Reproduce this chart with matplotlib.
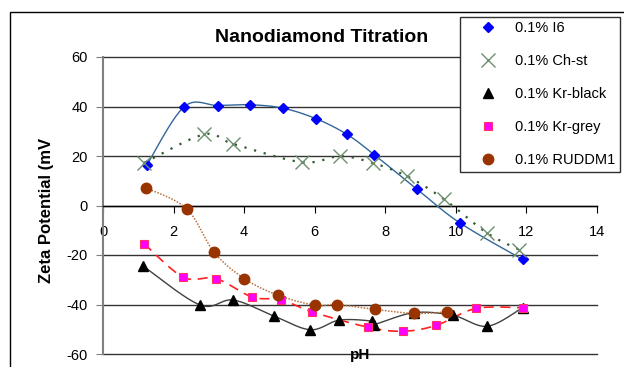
import numpy as np
import matplotlib
matplotlib.use("Agg")
import matplotlib.pyplot as plt
from matplotlib.patches import Rectangle

plt.rcParams['font.family'] = ['Liberation Sans', 'DejaVu Sans']
plt.rcParams['axes.unicode_minus'] = False

# pH / zeta potential readings per sample
i6_ph = [1.24, 2.30, 3.25, 4.18, 5.11, 6.05, 6.92, 7.68, 8.89, 10.11, 11.89]
i6_zp = [16.3, 39.9, 40.4, 40.7, 39.3, 35.0, 28.7, 20.6, 6.7, -7.0, -21.8]

chst_ph = [1.16, 2.86, 3.69, 5.63, 6.73, 7.64, 8.62, 9.67, 10.87, 11.79]
chst_zp = [17.2, 28.7, 24.9, 17.5, 19.9, 17.2, 11.8, 2.5, -11.0, -17.8]

krb_ph = [1.14, 2.75, 3.69, 4.85, 5.88, 6.70, 7.61, 7.68, 8.81, 9.92, 10.89, 11.89]
krb_zp = [-24.5, -40.2, -38.2, -44.7, -50.2, -46.3, -46.7, -48.1, -43.3, -44.4, -48.8, -41.3]

krg_ph = [1.16, 2.28, 3.20, 4.23, 5.04, 5.93, 7.52, 8.51, 9.45, 10.57, 11.89]
krg_zp = [-15.4, -29.0, -29.5, -37.0, -38.0, -43.0, -49.2, -50.8, -48.4, -41.6, -41.3]

rud_ph = [1.22, 2.37, 3.15, 4.00, 4.95, 6.01, 6.62, 7.71, 8.81, 9.76]
rud_zp = [7.1, -1.3, -18.9, -29.5, -36.2, -40.3, -40.0, -42.0, -43.6, -43.0]

labels = ['0.1% I6', '0.1% Ch-st', '0.1% Kr-black', '0.1% Kr-grey', '0.1% RUDDM1']


def smooth(x, y, n=24):
    # bezier smoothing through the points, like the spreadsheet "smoothed line"
    pts = np.column_stack([x, y]).astype(float)
    P = np.vstack([pts[0], pts, pts[-1]])
    t = np.linspace(0, 1, n)[:, None]
    out = []
    for i in range(1, len(P) - 2):
        p0, p1, p2, p3 = P[i - 1], P[i], P[i + 1], P[i + 2]
        c1 = p1 + (p2 - p0) / 6.0
        c2 = p2 - (p3 - p1) / 6.0
        seg = ((1 - t) ** 3 * p1 + 3 * (1 - t) ** 2 * t * c1
               + 3 * (1 - t) * t ** 2 * c2 + t ** 3 * p2)
        out.append(seg)
    s = np.vstack(out)
    return s[:, 0], s[:, 1]


fig = plt.figure(figsize=(6.24, 3.67), dpi=100)
ax = fig.add_axes([103 / 624, 13 / 367, 494 / 624, 297 / 367])

series = [
    (i6_ph, i6_zp, dict(color='#336699', lw=1.0, ls='-'),
     dict(marker='D', ms=5.5, mfc='#0000ff', mec='#0000ff')),
    (chst_ph, chst_zp, dict(color='#2f5a2f', lw=1.6, ls=(0, (1, 3.5))),
     dict(marker='x', ms=10, mfc='none', mec='#6e8f6e', mew=1.0)),
    (krb_ph, krb_zp, dict(color='#404040', lw=1.0, ls='-'),
     dict(marker='^', ms=6.5, mfc='black', mec='black')),
    (krg_ph, krg_zp, dict(color='#ff2020', lw=1.2, ls=(0, (6, 4))),
     dict(marker='s', ms=6, mfc='#ff00ff', mec='#ff3366', mew=0.8)),
    (rud_ph, rud_zp, dict(color='#b8703a', lw=1.1, ls=(0, (1, 1))),
     dict(marker='o', ms=7.5, mfc='#993300', mec='#993300')),
]

handles = []
for (x, y, lstyle, mstyle), lab in zip(series, labels):
    sx, sy = smooth(x, y)
    ax.plot(sx, sy, zorder=3, **lstyle)
    h, = ax.plot(x, y, ls='none', zorder=4, label=lab, **mstyle)
    handles.append(h)

ax.set_xlim(0, 14)
ax.set_ylim(-60, 60)
ax.set_xticks(range(0, 15, 2))
ax.set_yticks(range(-60, 61, 20))

ax.spines['top'].set_visible(False)
ax.spines['right'].set_visible(False)
ax.spines['left'].set_color('#808080')
ax.spines['left'].set_linewidth(1.5)
ax.spines['bottom'].set_position(('data', 0))
ax.spines['bottom'].set_color('black')
ax.spines['bottom'].set_linewidth(1.0)

ax.tick_params(axis='x', direction='out', length=5, pad=9, labelsize=10.5,
               color='black')
ax.tick_params(axis='y', direction='out', length=5, pad=6, labelsize=10.5,
               color='#808080')

ax.yaxis.grid(True, color='#333333', lw=1.0)
ax.set_axisbelow(True)
for gl in ax.get_ygridlines():
    gl.set_clip_on(False)

fig.text(322 / 624, 1 - 37 / 367, 'Nanodiamond Titration', ha='center',
         va='center', fontsize=14, fontweight='bold')
fig.text(47 / 624, 1 - 210 / 367, 'Zeta Potential (mV', rotation=90,
         ha='center', va='center', fontsize=12, fontweight='bold')
fig.text(360 / 624, 1 - 355 / 367, 'pH', ha='center', va='center',
         fontsize=11, fontweight='bold')

leg = fig.legend(handles=handles, loc='upper left',
                 bbox_to_anchor=(460 / 624, 1 - 17 / 367),
                 bbox_transform=fig.transFigure, borderaxespad=0,
                 fontsize=10.5, frameon=True, fancybox=False, framealpha=1,
                 edgecolor='#303030', borderpad=0.3, labelspacing=1.3,
                 handlelength=3.2, handletextpad=0.3)
leg.get_frame().set_linewidth(1.0)
leg.set_zorder(10)

fig.add_artist(Rectangle((10 / 624, -0.1), 1.2, 1.1 - 12 / 367,
                         transform=fig.transFigure, fill=False,
                         edgecolor='black', lw=1.0))

plt.savefig('out.png', dpi=100)
